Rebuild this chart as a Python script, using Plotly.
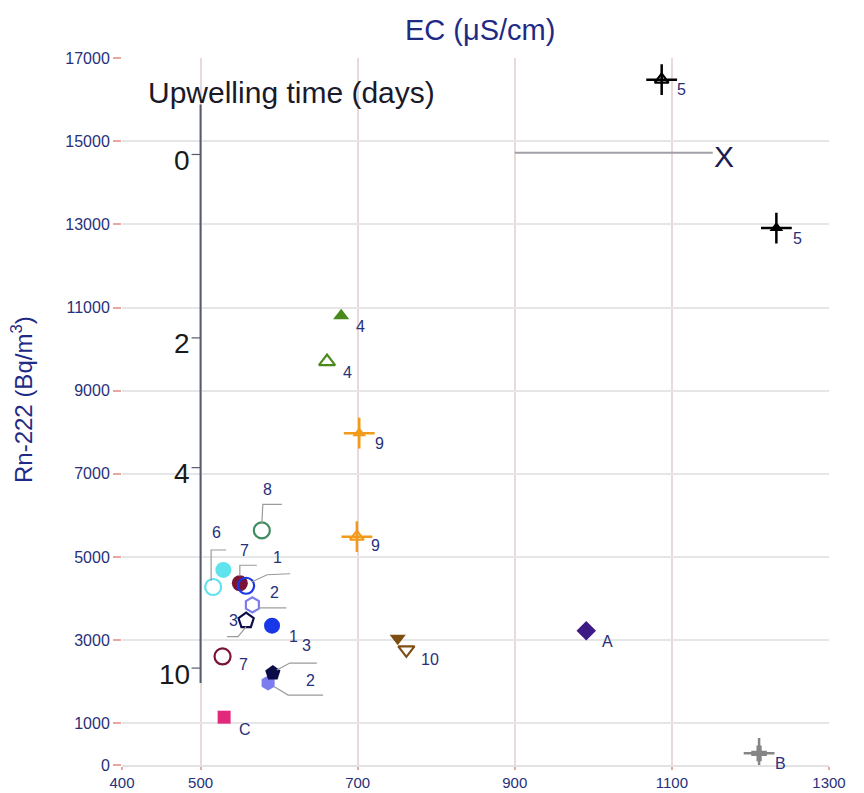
import plotly.graph_objects as go

# ---------------- data ----------------
labels = ["5", "5", "4", "4", "9", "9", "10", "10", "A", "B", "C",
          "8", "6", "6", "7", "7", "1", "1", "2", "2", "3", "3"]
ec = [1087, 1233, 679, 661, 702, 699, 751, 762, 991, 1211, 530,
      578, 529, 516, 550, 528, 558, 591, 566, 586, 558, 592]
rn = [16480, 12910, 10800, 9700, 7980, 5490, 3050, 2770, 3230, 280, 1150,
      5640, 4690, 4280, 4370, 2610, 4310, 3350, 3850, 1970, 3470, 2210]
filled = [False, True, True, False, True, False, True, False, True, True, True,
          False, True, False, True, False, False, True, False, True, False, True]

x_ticks = [400, 500, 700, 900, 1100, 1300]
y_ticks = [0, 1000, 3000, 5000, 7000, 9000, 11000, 13000, 15000, 17000]

upwell_days = ["0", "2", "4", "10"]
upwell_rn = [14680, 10270, 7150, 2330]
upwell_axis_rn = [1970, 15880]
upwell_axis_ec = 500

endmember_x = {"ec": 1166, "rn": 14620}
endmember_line_ec = [900, 1152]
endmember_line_rn = 14720

# ---------------- styles ----------------
NAVY = "#27307a"
FONT = "Liberation Sans, Arial"
group_color = {"5": "#000000", "4": "#4a8a1c", "9": "#f29a1a", "10": "#7d4d12",
               "A": "#3d1a86", "B": "#858585", "C": "#e2297b", "8": "#3f8a5e",
               "6": "#5fe3ec", "7": "#7a1434", "1": "#1737e8", "2": "#7c7cee",
               "3": "#0c0c48"}
group_symbol = {"5": "triangle-up", "9": "triangle-up", "4": "triangle-up",
                "10": "triangle-down", "A": "diamond", "B": "cross", "C": "square",
                "8": "circle", "6": "circle", "7": "circle", "1": "circle",
                "2": "hexagon", "3": "pentagon"}
group_size = {"5": 12, "9": 12, "4": 14, "10": 14, "A": 15, "B": 13, "C": 13,
              "8": 16, "6": 16, "7": 16, "1": 16, "2": 15, "3": 16}
cross_groups = {"5", "9", "B"}

# label offsets (pixels: dx right, dy down) for each point
lab_off = [(20, 10), (21, 10), (19, 11), (20, 11), (20, 10), (19, 9), None, (24, 10),
           (21, 11), (21, 10), (21, 12),
           (6, -41), (-7, -37), None, (5, -33), (21, 8), (31, -28), (21, 11),
           (22, -12), (42, -3), (-13, 0), (34, -28)]
# leader polylines (pixel offsets from point, dy down)
leaders = {11: [(0, -7), (1, -26), (20, -26)],
           13: [(-2, -6), (-2, -37), (13, -37)],
           14: [(0, -7), (0, -18), (17, -18)],
           16: [(6, -4), (21, -11), (44, -12)],
           18: [(6, 3), (34, 3)],
           20: [(0, 6), (-8, 16), (-19, 16)],
           21: [(4, -3), (17, -10), (44, -10)],
           19: [(5, 3), (20, 12), (55, 12)]}

fig = go.Figure()

# marks
for i, lab in enumerate(labels):
    col = group_color[lab]
    if lab in cross_groups:
        fig.add_trace(go.Scatter(
            x=[ec[i]], y=[rn[i]], mode="markers", hoverinfo="skip",
            marker=dict(symbol="cross-thin-open", size=22, color=col,
                        line=dict(color=col, width=2.5))))
    sym = group_symbol[lab] + ("" if filled[i] else "-open")
    fig.add_trace(go.Scatter(
        x=[ec[i]], y=[rn[i]], mode="markers", hoverinfo="skip",
        marker=dict(symbol=sym, size=group_size[lab], color=col,
                    line=dict(color=col, width=0 if filled[i] else 2.2))))

shapes = []
annotations = []

# leader lines
for idx, pts in leaders.items():
    path = "M" + " L".join(f"{dx},{-dy}" for dx, dy in pts)
    shapes.append(dict(type="path", xref="x", yref="y", xsizemode="pixel",
                       ysizemode="pixel", xanchor=ec[idx], yanchor=rn[idx],
                       path=path, line=dict(color="#9a9a9a", width=1.2)))

# point labels
for i, lab in enumerate(labels):
    off = lab_off[i]
    if off is None:
        continue
    annotations.append(dict(x=ec[i], y=rn[i], xref="x", yref="y", text=lab,
                            showarrow=False, xshift=off[0], yshift=-off[1],
                            xanchor="center", yanchor="middle",
                            font=dict(size=16, color=NAVY, family=FONT)))

# upwelling axis
shapes.append(dict(type="line", xref="x", yref="y", x0=upwell_axis_ec, x1=upwell_axis_ec,
                   y0=upwell_axis_rn[0], y1=upwell_axis_rn[1],
                   line=dict(color="#565a70", width=2)))
for d, r in zip(upwell_days, upwell_rn):
    shapes.append(dict(type="path", xref="x", yref="y", xsizemode="pixel",
                       ysizemode="pixel", xanchor=upwell_axis_ec, yanchor=r,
                       path="M-9,0 L0,0", line=dict(color="#565a70", width=1.2)))
    annotations.append(dict(x=upwell_axis_ec, y=r, xref="x", yref="y", text=d,
                            showarrow=False, xanchor="right", yanchor="middle",
                            xshift=-9, yshift=-6,
                            font=dict(size=28, color="#1a1a1a", family=FONT)))
annotations.append(dict(x=(146 - 122) / 707, y=(765 - 92) / 707, xref="paper", yref="paper",
                        text="Upwelling time (days)", showarrow=False,
                        xanchor="left", yanchor="middle",
                        font=dict(size=30, color="#1a1a2a", family=FONT)))

# endmember X
shapes.append(dict(type="line", xref="x", yref="y", x0=endmember_line_ec[0],
                   x1=endmember_line_ec[1], y0=endmember_line_rn, y1=endmember_line_rn,
                   line=dict(color="#a0a0a8", width=2)))
annotations.append(dict(x=endmember_x["ec"], y=endmember_x["rn"], xref="x", yref="y",
                        text="X", showarrow=False, xanchor="center", yanchor="middle",
                        font=dict(size=30, color="#1c1c50", family=FONT)))

# titles
annotations.append(dict(x=(480 - 122) / 707, y=1 + (58 - 30) / 707, xref="paper",
                        yref="paper", text="EC (μS/cm)", showarrow=False,
                        xanchor="center", yanchor="middle",
                        font=dict(size=29, color="#1f2a85", family=FONT)))
annotations.append(dict(x=(22 - 122) / 707, y=(765 - 400) / 707, xref="paper",
                        yref="paper", text="Rn-222 (Bq/m<sup>3</sup>)", showarrow=False,
                        textangle=-90, xanchor="center", yanchor="middle",
                        font=dict(size=24, color="#1f2a85", family=FONT)))

fig.update_layout(
    width=864, height=793,
    margin=dict(l=122, r=35, t=58, b=28),
    paper_bgcolor="white", plot_bgcolor="white",
    showlegend=False,
    shapes=shapes, annotations=annotations,
    xaxis=dict(range=[400, 1300], tickvals=x_ticks, ticktext=[str(v) for v in x_ticks],
               automargin=False,
               showgrid=True, gridcolor="#ead9da", gridwidth=2,
               zeroline=False, showline=True, linecolor="#e2e2e2", linewidth=2,
               ticks="outside", ticklen=3, tickcolor="#e8a8a0", tickwidth=1.5,
               tickfont=dict(size=15, color=NAVY, family=FONT)),
    yaxis=dict(range=[0, 17000], tickvals=y_ticks, ticktext=[str(v) for v in y_ticks],
               automargin=False,
               showgrid=True, gridcolor="#e6e6e6", gridwidth=2,
               zeroline=False, showline=False,
               ticks="outside", ticklen=8, tickcolor="#e8a8a0", tickwidth=1.5,
               tickfont=dict(size=16, color=NAVY, family=FONT)),
)

fig.write_html("out.html")
